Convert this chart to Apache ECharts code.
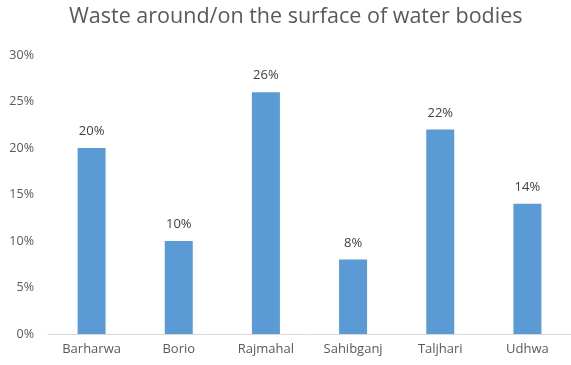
<!DOCTYPE html>
<html><head><meta charset="utf-8">
<script src="https://cdn.jsdelivr.net/npm/echarts@6/dist/echarts.min.js"></script>
<style>html,body{margin:0;padding:0;background:#fff}#c{width:571px;height:365px}</style>
</head><body><div id="c"></div>
<script>
const categories = ['Barharwa','Borio','Rajmahal','Sahibganj','Taljhari','Udhwa'];
const values = [20, 10, 26, 8, 22, 14];
const yTicks = [0, 5, 10, 15, 20, 25, 30];
const title = 'Waste around/on the surface of water bodies';

const chart = echarts.init(document.getElementById('c'));
const font = 'Open Sans';
chart.setOption({
  animation: false,
  title: {text: title, left: 69, top: 6, padding: 0,
    textStyle: {fontFamily: font, fontSize: 21.5, fontWeight: 'normal', color: '#595959'}},
  grid: {left: 48, right: 0, top: 55, bottom: 31},
  xAxis: {type: 'category', data: categories,
    axisLine: {lineStyle: {color: '#d9d9d9'}}, axisTick: {show: false},
    axisLabel: {fontFamily: font, fontSize: 13, color: '#595959', margin: 9}},
  yAxis: {type: 'value', min: yTicks[0], max: yTicks[yTicks.length-1], interval: 5,
    splitLine: {show: false}, axisLine: {show: false}, axisTick: {show: false},
    axisLabel: {fontFamily: font, fontSize: 12.5, color: '#595959', formatter: v => v + '%', margin: 14}},
  series: [{type: 'bar', data: values, barWidth: 28,
    itemStyle: {color: '#5b9bd5'},
    label: {show: true, position: 'top', distance: 10, formatter: p => p.value + '%',
      fontFamily: font, fontSize: 13, color: '#404040'}}]
});
</script></body></html>
